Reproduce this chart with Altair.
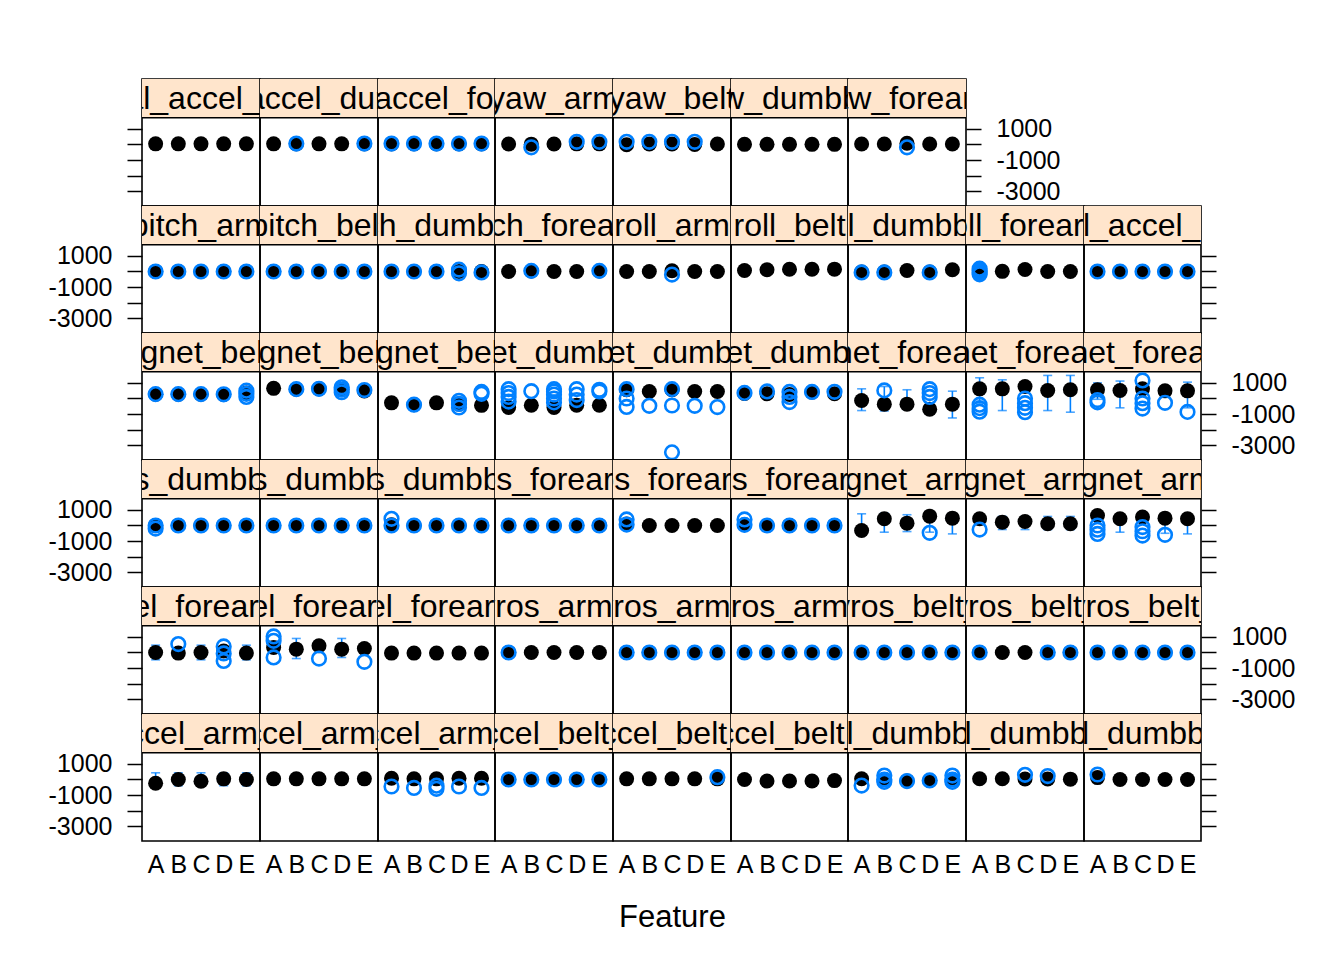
import altair as alt
import pandas as pd

FONT = "Liberation Sans"
BLUE = "#0080ff"
STRIP_FILL = "#ffe5cc"

classes = ["A", "B", "C", "D", "E"]

features = [
    "accel_arm_x", "accel_arm_y", "accel_arm_z", "accel_belt_x", "accel_belt_y",
    "accel_belt_z", "accel_dumbbell_x", "accel_dumbbell_y", "accel_dumbbell_z",
    "accel_forearm_x", "accel_forearm_y", "accel_forearm_z", "gyros_arm_x", "gyros_arm_y",
    "gyros_arm_z", "gyros_belt_x", "gyros_belt_y", "gyros_belt_z",
    "gyros_dumbbell_x", "gyros_dumbbell_y", "gyros_dumbbell_z", "gyros_forearm_x",
    "gyros_forearm_y", "gyros_forearm_z", "magnet_arm_x", "magnet_arm_y", "magnet_arm_z",
    "magnet_belt_x", "magnet_belt_y", "magnet_belt_z", "magnet_dumbbell_x",
    "magnet_dumbbell_y", "magnet_dumbbell_z", "magnet_forearm_x", "magnet_forearm_y",
    "magnet_forearm_z",
    "pitch_arm", "pitch_belt", "pitch_dumbbell", "pitch_forearm", "roll_arm", "roll_belt",
    "roll_dumbbell", "roll_forearm", "total_accel_arm",
    "total_accel_belt", "total_accel_dumbbell", "total_accel_forearm", "yaw_arm",
    "yaw_belt", "yaw_dumbbell", "yaw_forearm",
]

# medians per class A..E (black dots)
medians = {
    "accel_arm_x": [-240, 0, -110, 40, 0],
    "accel_arm_y": [40, 40, 40, 40, 40],
    "accel_arm_z": [80, 40, 40, 80, 80],
    "accel_belt_x": [0, 0, 0, 0, 0],
    "accel_belt_y": [40, 40, 40, 40, 40],
    "accel_belt_z": [0, -100, -100, -100, -70],
    "accel_dumbbell_x": [50, 0, -100, -60, 0],
    "accel_dumbbell_y": [50, 50, 30, 30, 20],
    "accel_dumbbell_z": [120, 0, 0, 0, 0],
    "accel_forearm_x": [0, -40, 0, 100, -40],
    "accel_forearm_y": [320, 215, 430, 215, 260],
    "accel_forearm_z": [-40, -40, -40, -40, -40],
    "gyros_arm_x": [0, 0, 0, 0, 0],
    "gyros_arm_y": [0, 0, 0, 0, 0],
    "gyros_arm_z": [0, 0, 0, 0, 0],
    "gyros_belt_x": [0, 0, 0, 0, 0],
    "gyros_belt_y": [0, 0, 0, 0, 0],
    "gyros_belt_z": [0, 0, 0, 0, 0],
    "gyros_dumbbell_x": [0, 0, 0, 0, 0],
    "gyros_dumbbell_y": [0, 0, 0, 0, 0],
    "gyros_dumbbell_z": [50, 0, 0, 0, 0],
    "gyros_forearm_x": [0, 0, 0, 0, 0],
    "gyros_forearm_y": [100, 0, 0, 0, 0],
    "gyros_forearm_z": [50, 0, 0, 0, 0],
    "magnet_arm_x": [-320, 430, 150, 600, 470],
    "magnet_arm_y": [430, 215, 260, 110, 110],
    "magnet_arm_z": [645, 430, 540, 470, 430],
    "magnet_belt_x": [270, 270, 270, 260, 360],
    "magnet_belt_y": [650, 600, 620, 580, 480],
    "magnet_belt_z": [-280, -400, -280, -360, -440],
    "magnet_dumbbell_x": [-580, -430, -580, -430, -430],
    "magnet_dumbbell_y": [560, 450, 560, 450, 450],
    "magnet_dumbbell_z": [320, 300, 260, 410, 300],
    "magnet_forearm_x": [-130, -365, -365, -690, -365],
    "magnet_forearm_y": [620, 620, 770, 516, 560],
    "magnet_forearm_z": [560, 516, 620, 490, 490],
    "pitch_arm": [0, 0, 0, 0, 0],
    "pitch_belt": [0, 0, 0, 0, 0],
    "pitch_dumbbell": [0, 0, 0, 0, 0],
    "pitch_forearm": [0, 30, 0, 0, 30],
    "roll_arm": [0, 0, 50, 0, 0],
    "roll_belt": [60, 110, 140, 140, 150],
    "roll_dumbbell": [-40, -40, 60, -40, 110],
    "roll_forearm": [0, 10, 130, 0, 0],
    "total_accel_arm": [0, 0, 0, 0, 0],
    "total_accel_belt": [40, 40, 40, 40, 40],
    "total_accel_dumbbell": [40, 40, 40, 40, 40],
    "total_accel_forearm": [40, 40, 40, 40, 40],
    "yaw_arm": [30, 20, 30, 40, 40],
    "yaw_belt": [-20, 30, 30, 0, 30],
    "yaw_dumbbell": [10, 10, 10, 10, 10],
    "yaw_forearm": [30, 30, 80, 30, 30],
}

ALL0 = {c: [0] for c in classes}

# outlying points per class (blue open circles)
outliers = {
    "accel_arm_z": {"A": [-450], "B": [-540], "C": [-400, -600], "D": [-450], "E": [-540]},
    "accel_belt_x": ALL0,
    "accel_belt_y": {"E": [150]},
    "accel_dumbbell_x": {"A": [-390], "B": [250, 0, -150], "C": [-100], "D": [-60], "E": [250, 0, -150]},
    "accel_dumbbell_y": {"C": [300], "D": [220]},
    "accel_dumbbell_z": {"A": [320]},
    "accel_forearm_x": {"B": [540], "D": [390, -60, -540]},
    "accel_forearm_y": {"A": [1030, 750, -320], "C": [-390], "E": [-600]},
    "gyros_arm_x": {"A": [0]},
    "gyros_arm_y": ALL0,
    "gyros_arm_z": ALL0,
    "gyros_belt_x": ALL0,
    "gyros_belt_y": {"A": [0], "D": [0], "E": [0]},
    "gyros_belt_z": ALL0,
    "gyros_dumbbell_x": {"A": [0, -200], "B": [0], "C": [0], "D": [0], "E": [0]},
    "gyros_dumbbell_y": ALL0,
    "gyros_dumbbell_z": {"A": [430, 0], "B": [0], "C": [0], "D": [0], "E": [0]},
    "gyros_forearm_x": ALL0,
    "gyros_forearm_y": {"A": [390, 60]},
    "gyros_forearm_z": {"A": [390, 40], "B": [0], "C": [0], "D": [0], "E": [0]},
    "magnet_arm_x": {"D": [-470]},
    "magnet_arm_y": {"A": [-260]},
    "magnet_arm_z": {"A": [0, -270, -540], "C": [-100, -370, -650], "D": [-600]},
    "magnet_belt_x": {"A": [280], "B": [280], "C": [280], "D": [270], "E": [100, 300, 500]},
    "magnet_belt_y": {"B": [600], "C": [620], "D": [400, 560, 720], "E": [540]},
    "magnet_belt_z": {"B": [-400], "D": [-150, -350, -580], "E": [300, 420]},
    "magnet_dumbbell_x": {"A": [-200, 100, 350, 600], "B": [470], "C": [-250, 0, 250, 450, 600],
                          "D": [600, 250, -100], "E": [560, 450]},
    "magnet_dumbbell_y": {"A": [600, 0, -540], "B": [-470], "C": [600, -450, -3460], "D": [-470], "E": [-550]},
    "magnet_dumbbell_z": {"A": [360], "B": [450], "C": [420, 100, -230], "D": [420], "E": [430]},
    "magnet_forearm_x": {"B": [520], "D": [600, 350, 100]},
    "magnet_forearm_y": {"A": [-400, -620, -850], "C": [0, -300, -600, -880]},
    "magnet_forearm_z": {"A": [-100, -250], "C": [1160, 0, -300, -650], "D": [-280], "E": [-860]},
    "pitch_arm": ALL0,
    "pitch_belt": ALL0,
    "pitch_dumbbell": {"A": [0], "B": [0], "C": [0], "D": [120, -120], "E": [-60]},
    "pitch_forearm": {"B": [40], "E": [40]},
    "roll_arm": {"C": [-200]},
    "roll_dumbbell": {"A": [-60], "B": [-60], "D": [-60]},
    "roll_forearm": {"A": [180, 60, -60, -180]},
    "total_accel_arm": ALL0,
    "total_accel_dumbbell": {"B": [60], "E": [60]},
    "total_accel_forearm": {c: [60] for c in classes},
    "yaw_arm": {"B": [-180], "D": [170], "E": [170]},
    "yaw_belt": {"A": [170], "B": [170], "C": [170], "D": [170]},
    "yaw_forearm": {"C": [-180]},
}

# visible whisker extents per class [low, high]
whiskers = {
    "accel_arm_x": {c: [-400, 430] for c in classes},
    "accel_forearm_x": {"A": [-470, 470], "C": [-470, 470], "E": [-470, 470]},
    "accel_forearm_y": {"B": [-390, 900], "D": [-320, 900]},
    "magnet_arm_x": {"A": [-560, 750], "B": [-430, 780], "C": [-390, 690], "D": [-430, 780], "E": [-540, 780]},
    "magnet_arm_y": {"B": [-260, 580], "C": [-260, 580], "D": [-260, 580], "E": [-260, 580]},
    "magnet_arm_z": {"B": [-430, 690], "D": [-500, 690], "E": [-540, 690]},
    "magnet_forearm_x": {"A": [-775, 620], "B": [-800, 770], "C": [-700, 560], "E": [-1250, 470]},
    "magnet_forearm_y": {"A": [-300, 1330], "B": [-775, 1200], "D": [-775, 1480], "E": [-880, 1480]},
    "magnet_forearm_z": {"A": [-50, 1000], "B": [-600, 1120], "E": [-600, 1050]},
}

y_ticks = [1000, 0, -1000, -2000, -3000]
y_domain = [-3950, 1720]

COL_W = [118, 118, 117, 118, 118, 117, 118, 118, 117]
H = 127
STRIP = 38.7

yscale = alt.Scale(domain=y_domain, range=[H, STRIP], nice=False, zero=False)
xscale = alt.Scale(domain=classes, type="point", padding=0.6)


def y_axis(orient, show):
    return alt.Axis(
        orient=orient, values=y_ticks,
        labelExpr="abs(datum.value) % 2000 == 1000 ? '' + datum.value : ''",
        labelOpacity=1 if show else 0, labelColor="black", labelFont=FONT,
        labelFontSize=25, labelPadding=15, tickSize=15, tickWidth=1.5,
        tickColor="black", domain=False, grid=False, title=None,
        labelOverlap=False, labelFlush=False,
    )


def x_axis(title):
    kw = dict(
        orient="bottom", labelAngle=0, labelFont=FONT, labelFontSize=25,
        labelColor="black", labelPadding=11, ticks=False, tickSize=0,
        domain=False, grid=False, labelOverlap=False,
    )
    if title:
        kw.update(title=title, titleFont=FONT, titleFontSize=31,
                  titleFontWeight="normal", titleColor="black", titlePadding=25)
    else:
        kw.update(title=None)
    return alt.Axis(**kw)


def panel(feat, W, yax, xax):
    layers = []
    strip_df = pd.DataFrame({"name": [feat]})
    layers.append(alt.Chart(strip_df).mark_rect(color=STRIP_FILL).encode(
        x=alt.value(0), x2=alt.value(W), y=alt.value(0), y2=alt.value(STRIP)))
    layers.append(alt.Chart(strip_df).mark_rule(color="black", strokeWidth=1.6).encode(
        x=alt.value(0), x2=alt.value(W), y=alt.value(STRIP)))
    layers.append(alt.Chart(strip_df).mark_text(
        clip=True, font=FONT, fontSize=32, color="black", align="center",
        baseline="alphabetic").encode(
        x=alt.value(W / 2), y=alt.value(30), text="name:N"))

    xenc = dict(scale=xscale, axis=xax)
    yenc = dict(scale=yscale, axis=yax)

    wh = whiskers.get(feat, {})
    if wh:
        wdf = pd.DataFrame([{"cls": c, "lo": v[0], "hi": v[1]} for c, v in wh.items()])
        cdf = pd.DataFrame([{"cls": c, "value": x} for c, v in wh.items() for x in v])
        layers.append(alt.Chart(wdf).mark_rule(color=BLUE, strokeWidth=1.6).encode(
            x=alt.X("cls:N", **xenc), y=alt.Y("lo:Q", **yenc), y2="hi:Q"))
        layers.append(alt.Chart(cdf).mark_tick(
            color=BLUE, thickness=1.6, size=9, orient="horizontal").encode(
            x=alt.X("cls:N", **xenc), y=alt.Y("value:Q", **yenc)))

    mdf = pd.DataFrame({"cls": classes, "value": medians[feat]})
    layers.append(alt.Chart(mdf).mark_point(
        shape="circle", filled=True, color="black", size=225, opacity=1).encode(
        x=alt.X("cls:N", **xenc), y=alt.Y("value:Q", **yenc)))

    od = outliers.get(feat, {})
    rows = [{"cls": c, "value": x} for c, v in od.items() for x in v]
    if rows:
        odf = pd.DataFrame(rows)
        layers.append(alt.Chart(odf).mark_point(
            shape="circle", filled=False, color=BLUE, size=185, strokeWidth=2.6,
            opacity=1).encode(
            x=alt.X("cls:N", **xenc), y=alt.Y("value:Q", **yenc)))

    return alt.layer(*layers).properties(width=W, height=H)


def spacer(W):
    return alt.Chart(pd.DataFrame({"a": [0]})).mark_point(opacity=0).encode(
        x=alt.value(0), y=alt.value(0)
    ).properties(width=W, height=H,
                 view=alt.ViewBackground(strokeOpacity=0, fillOpacity=0))


# lattice fills from the bottom row upward, 9 panels per row
row_slices = [features[45:52], features[36:45], features[27:36],
              features[18:27], features[9:18], features[0:9]]

cells = []
for r, feats in enumerate(row_slices):
    labels_right = (r % 2 == 0)  # top row, 3rd, 5th have labels at right
    is_bottom = (r == len(row_slices) - 1)
    for i, f in enumerate(feats):
        if i == 0:
            yax = y_axis("left", not labels_right)
        elif i == len(feats) - 1:
            yax = y_axis("right", labels_right)
        else:
            yax = None
        if is_bottom:
            xax = x_axis("Feature" if i == 4 else None)
        else:
            xax = None
        cells.append(panel(f, COL_W[i], yax, xax))
    for i in range(len(feats), 9):
        cells.append(spacer(COL_W[i]))

chart = alt.concat(*cells, columns=9, spacing=0, bounds="flush", align="each").properties(
    padding={"left": 39, "top": 68, "right": 5, "bottom": 5}
).configure(background="white").configure_view(stroke="black", strokeWidth=1.6)

chart.save("out.html", embed_options={"renderer": "svg", "actions": False})
